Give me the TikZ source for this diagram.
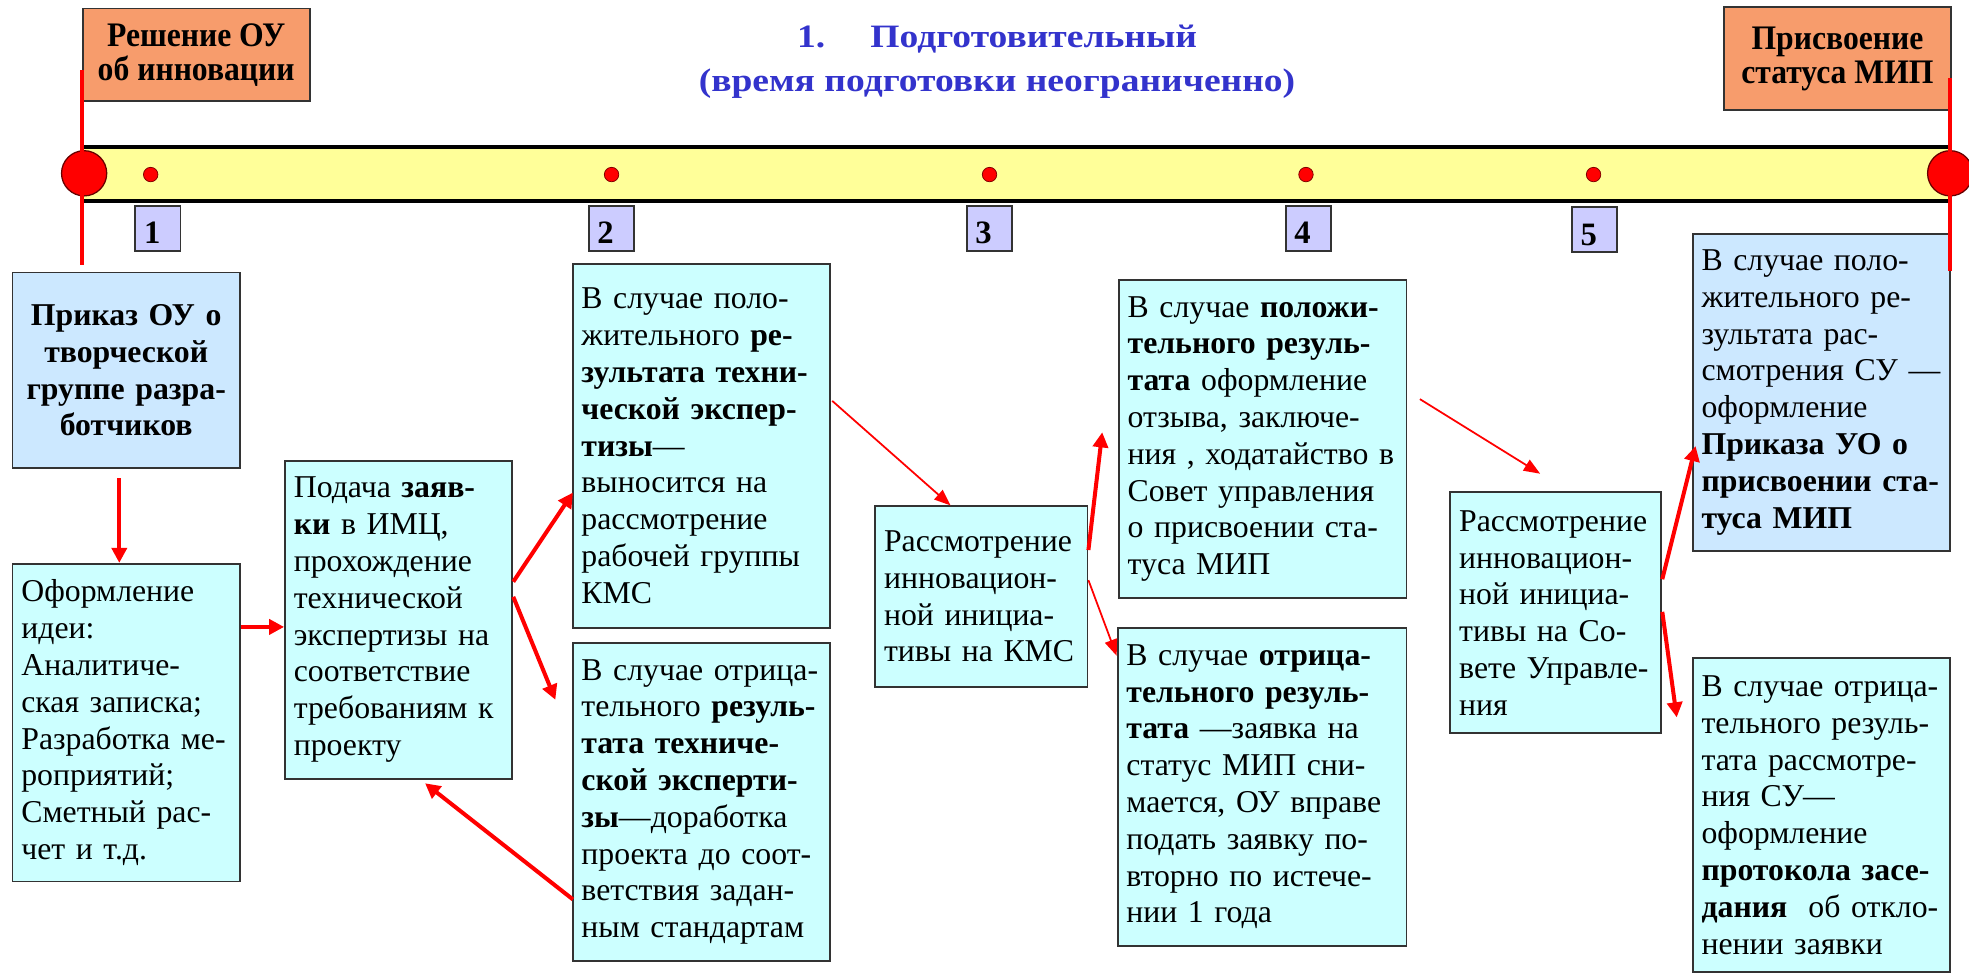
\documentclass[tikz,border=0pt]{standalone}
\usepackage{fontspec}
\setmainfont{Liberation Serif}
\newfontfamily\stagefont[FakeStretch=0.92]{Liberation Serif}
\newfontfamily\titlefont[FakeStretch=1.15]{Liberation Serif}
\usetikzlibrary{arrows.meta,calc,positioning}

\definecolor{boxcyan}{RGB}{204,255,255}
\definecolor{boxblue}{RGB}{204,232,255}
\definecolor{stageorange}{RGB}{247,156,108}
\definecolor{steplav}{RGB}{204,204,255}
\definecolor{baryellow}{RGB}{255,255,153}
\definecolor{titleblue}{RGB}{51,51,204}

\begin{document}
\begin{tikzpicture}[x=1pt, y=-1pt,
    box/.style = {draw=black!80, line width=1.5pt, fill=boxcyan, inner xsep=7pt, inner ysep=0pt, align=left, font=\fontsize{25.3}{29.3}\selectfont, execute at begin node={\exhyphenpenalty=10000}},
    stage/.style = {draw=black!80, line width=1.5pt, fill=stageorange, align=center, inner sep=0pt, minimum width=181, font=\stagefont\bfseries\fontsize{27.4}{27}\selectfont, execute at begin node={\setlength{\lineskiplimit}{-30pt}}},
    stepno/.style = {draw=black!80, line width=1.5pt, fill=steplav, anchor=north west, minimum width=36, minimum height=36, inner xsep=7pt, inner ysep=4pt, text width=22pt, text height=26pt, text depth=1pt, align=left, font=\bfseries\fontsize{26}{26}\selectfont},
    dot/.style = {circle, fill=red, draw=red!50!black, line width=0.6pt, inner sep=0pt, minimum size=11.5pt},
    bigdot/.style = {circle, fill=red, draw=red!40!black, line width=1pt, inner sep=0pt, minimum size=36pt},
    arr/.style = {-{Triangle[width=12pt,length=12pt]}, red, line width=3.2pt},
    thin/.style = {-{Triangle[width=10pt,length=13pt]}, red, line width=1.4pt},
    redline/.style = {red, line width=3pt}]
\useasboundingbox (0,0) rectangle (1568,776);

\node[align=center, inner sep=0pt, text=titleblue, font=\titlefont\bfseries\fontsize{26}{35}\selectfont, anchor=north] (title) at (794,19.5) {1.\hspace{36pt}Подготовительный\\(время подготовки неограниченно)};

\node[stage, anchor=north west, minimum height=74] (s1) at (65,6) {Решение ОУ\\об инновации};
\node[stage, anchor=north west, minimum height=82] (s2) at (1372,5) {Присвоение\\статуса МИП};

\fill[baryellow] (65,117) rectangle (1553,160);
\draw[line width=3.5pt] (65,117) -- (1553,117) (65,160) -- (1553,160);

\node[bigdot] (c1) at (67,138) {};
\node[bigdot] (c2) at (1553,138) {};
\node[dot] (d1) at (120,139) {};
\node[dot] (d2) at (487,139) {};
\node[dot] (d3) at (788,139) {};
\node[dot] (d4) at (1040,139) {};
\node[dot] (d5) at (1269,139) {};
\node[stepno] (n1) at (107,163) {1};
\node[stepno] (n2) at (468,163) {2};
\node[stepno] (n3) at (769,163) {3};
\node[stepno] (n4) at (1023,163) {4};
\node[stepno] (n5) at (1251,164) {5};

\node[box, fill=boxblue, align=center, text width=167pt, minimum height=156, font=\bfseries\fontsize{25.3}{29.3}\selectfont] (1) at (100.5,295) {Приказ ОУ о\\творческой\\группе разра-\\ботчиков};
\node[box, text width=167pt, minimum height=253] (2) at (100.5,575.5) {Оформление\\идеи:\\Аналитиче-\\ская записка;\\Разработка~ме-\\роприятий;\\Сметный рас-\\чет и т.д.};
\node[box, text width=167pt, minimum height=253] (3) at (317.5,493.5) {Подача \textbf{заяв-}\\\textbf{ки} в ИМЦ,\\прохождение\\технической\\экспертизы~на\\соответствие\\требованиям~к\\проекту};
\node[box, text width=191pt, minimum height=290] (4) at (558.5,355) {В случае поло-\\жительного \textbf{ре-}\\\textbf{зультата техни-}\\\textbf{ческой экспер-}\\\textbf{тизы}—\\выносится на\\рассмотрение\\рабочей группы\\КМС};
\node[box, text width=191pt, minimum height=253] (5) at (558.5,638.5) {В случае отрица-\\тельного \textbf{резуль-}\\\textbf{тата техниче-}\\\textbf{ской эксперти-}\\\textbf{зы}—доработка\\проекта до соот-\\ветствия задан-\\ным стандартам};
\node[box, text width=155pt, minimum height=143.5] (6) at (781.5,475) {Рассмотрение\\инновацион-\\ной инициа-\\тивы~на~КМС};
\node[box, text width=215pt, minimum height=253] (7) at (1005.5,349.5) {В случае \textbf{положи-}\\\textbf{тельного резуль-}\\\textbf{тата} оформление\\отзыва, заключе-\\ния~,~ходатайство~в\\Совет управления\\о присвоении ста-\\туса МИП};
\node[box, text width=216pt, minimum height=253] (8) at (1005,626.5) {В случае \textbf{отрица-}\\\textbf{тельного резуль-}\\\textbf{тата} —заявка на\\статус МИП сни-\\мается, ОУ вправе\\подать заявку по-\\вторно по истече-\\нии 1 года};
\node[box, text width=154pt, minimum height=192] (9) at (1239,488) {Рассмотрение\\инновацион-\\ной инициа-\\тивы~на~Со-\\вете~Управле-\\ния};
\node[box, fill=boxblue, text width=191pt, minimum height=253] (10) at (1450.5,312.5) {В случае поло-\\жительного ре-\\зультата рас-\\смотрения~СУ~—\\оформление\\\textbf{Приказа УО о}\\\textbf{присвоении~ста-}\\\textbf{туса МИП}};
\node[box, text width=191pt, minimum height=250] (11) at (1450.5,649) {В случае отрица-\\тельного резуль-\\тата рассмотре-\\ния СУ—\\оформление\\\textbf{протокола засе-}\\\textbf{дания}~ об~откло-\\нении заявки};

\draw[arr] ($(1.south)+(-5.5,7)$) -- ($(2.north)+(-5.5,0)$);
\draw[arr] ($(2.north east)+(0,51)$) -- ($(3.north west)+(0,133)$);
\draw[arr] ($(3.north east)+(0,97)$) -- ($(4.north west)+(1,183)$);
\draw[arr] ($(3.north east)+(0,109)$) -- ($(5.north west)+(-13,46)$);
\draw[arr] ($(5.north west)+(1,205)$) -- ($(3.south)+(21,3)$);
\draw[thin] ($(4.north east)+(1,110)$) -- ($(6.north)+(-24.5,0)$);
\draw[arr] ($(6.north east)+(0,35.5)$) -- ($(7.north west)+(-12.5,122)$);
\draw[thin] ($(6.north east)+(0,59.5)$) -- ($(8.north west)+(0,23)$);
\draw[thin] ($(7.north east)+(10,95.6)$) -- ($(9.north)+(-12.5,-14)$);
\draw[arr] ($(9.north east)+(0,70)$) -- ($(10.north west)+(3,170)$);
\draw[arr] ($(9.north east)+(0,96)$) -- ($(11.north west)+(-12,48)$);

\draw[redline] (65,56) -- (65,211);
\draw[redline] (1553,62) -- (1553,216);
\end{tikzpicture}
\end{document}
